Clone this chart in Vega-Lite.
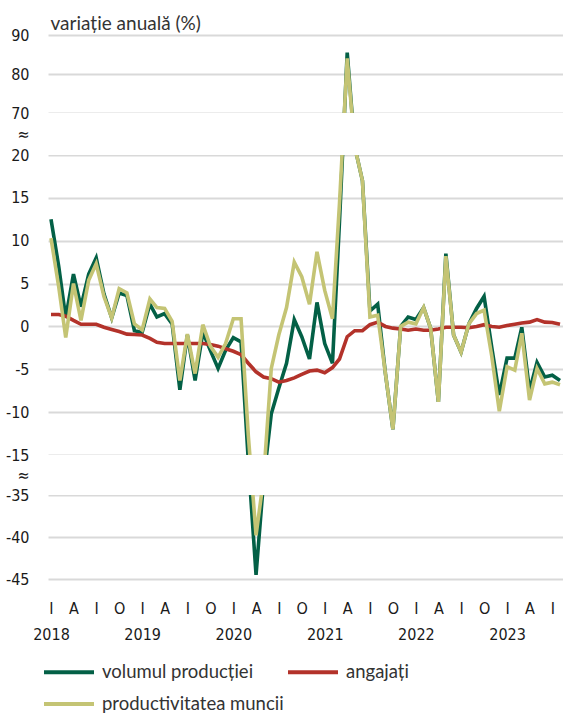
{
  "$schema": "https://vega.github.io/schema/vega-lite/v6.json",
  "width": 515,
  "height": 544,
  "autosize": {"type": "none"},
  "padding": {"left": 48, "top": 35, "right": 0, "bottom": 135},
  "background": "white",
  "config": {"view": {"stroke": null}, "font": "Lato"},
  "datasets": {
    "green": [
      {"d":"2018-01-01","v":12.5},{"d":"2018-02-01","v":7.0},{"d":"2018-03-01","v":1.0},{"d":"2018-04-01","v":6.1},{"d":"2018-05-01","v":2.3},{"d":"2018-06-01","v":6.1},{"d":"2018-07-01","v":8.0},{"d":"2018-08-01","v":3.8},{"d":"2018-09-01","v":1.0},{"d":"2018-10-01","v":3.9},{"d":"2018-11-01","v":3.6},{"d":"2018-12-01","v":-0.5},
      {"d":"2019-01-01","v":-0.7},{"d":"2019-02-01","v":2.6},{"d":"2019-03-01","v":1.1},{"d":"2019-04-01","v":1.5},{"d":"2019-05-01","v":0.3},{"d":"2019-06-01","v":-7.4},{"d":"2019-07-01","v":-1.0},{"d":"2019-08-01","v":-6.3},{"d":"2019-09-01","v":-0.7},{"d":"2019-10-01","v":-2.8},{"d":"2019-11-01","v":-4.9},{"d":"2019-12-01","v":-2.8},
      {"d":"2020-01-01","v":-1.3},{"d":"2020-02-01","v":-1.8},{"d":"2020-03-01","v":-18},{"d":"2020-04-01","v":-44.5},{"d":"2020-05-01","v":-28},{"d":"2020-06-01","v":-10.2},{"d":"2020-07-01","v":-7.2},{"d":"2020-08-01","v":-4.3},{"d":"2020-09-01","v":0.8},{"d":"2020-10-01","v":-1.2},{"d":"2020-11-01","v":-3.8},{"d":"2020-12-01","v":2.8},
      {"d":"2021-01-01","v":-2.0},{"d":"2021-02-01","v":-4.3},{"d":"2021-03-01","v":12.2},{"d":"2021-04-01","v":85.5},{"d":"2021-05-01","v":30},{"d":"2021-06-01","v":17},{"d":"2021-07-01","v":1.8},{"d":"2021-08-01","v":2.6},{"d":"2021-09-01","v":-5.5},{"d":"2021-10-01","v":-12},{"d":"2021-11-01","v":0.0},{"d":"2021-12-01","v":1.1},
      {"d":"2022-01-01","v":0.8},{"d":"2022-02-01","v":2.2},{"d":"2022-03-01","v":-0.2},{"d":"2022-04-01","v":-8.8},{"d":"2022-05-01","v":8.5},{"d":"2022-06-01","v":-1.0},{"d":"2022-07-01","v":-3.0},{"d":"2022-08-01","v":0.3},{"d":"2022-09-01","v":2.1},{"d":"2022-10-01","v":3.5},{"d":"2022-11-01","v":-2.5},{"d":"2022-12-01","v":-8.0},
      {"d":"2023-01-01","v":-3.7},{"d":"2023-02-01","v":-3.7},{"d":"2023-03-01","v":-0.1},{"d":"2023-04-01","v":-7.5},{"d":"2023-05-01","v":-4.2},{"d":"2023-06-01","v":-5.9},{"d":"2023-07-01","v":-5.7},{"d":"2023-08-01","v":-6.3}
    ],
    "red": [
      {"d":"2018-01-01","v":1.4},{"d":"2018-02-01","v":1.4},{"d":"2018-03-01","v":1.2},{"d":"2018-04-01","v":0.7},{"d":"2018-05-01","v":0.25},{"d":"2018-06-01","v":0.25},{"d":"2018-07-01","v":0.25},{"d":"2018-08-01","v":-0.1},{"d":"2018-09-01","v":-0.35},{"d":"2018-10-01","v":-0.6},{"d":"2018-11-01","v":-0.9},{"d":"2018-12-01","v":-0.95},
      {"d":"2019-01-01","v":-1.0},{"d":"2019-02-01","v":-1.4},{"d":"2019-03-01","v":-1.85},{"d":"2019-04-01","v":-2.0},{"d":"2019-05-01","v":-2.0},{"d":"2019-06-01","v":-2.0},{"d":"2019-07-01","v":-2.0},{"d":"2019-08-01","v":-2.0},{"d":"2019-09-01","v":-2.0},{"d":"2019-10-01","v":-2.1},{"d":"2019-11-01","v":-2.3},{"d":"2019-12-01","v":-2.6},
      {"d":"2020-01-01","v":-2.9},{"d":"2020-02-01","v":-3.3},{"d":"2020-03-01","v":-4.3},{"d":"2020-04-01","v":-5.3},{"d":"2020-05-01","v":-5.9},{"d":"2020-06-01","v":-6.1},{"d":"2020-07-01","v":-6.5},{"d":"2020-08-01","v":-6.3},{"d":"2020-09-01","v":-6.0},{"d":"2020-10-01","v":-5.6},{"d":"2020-11-01","v":-5.2},{"d":"2020-12-01","v":-5.1},
      {"d":"2021-01-01","v":-5.4},{"d":"2021-02-01","v":-4.8},{"d":"2021-03-01","v":-3.8},{"d":"2021-04-01","v":-1.2},{"d":"2021-05-01","v":-0.5},{"d":"2021-06-01","v":-0.5},{"d":"2021-07-01","v":0.2},{"d":"2021-08-01","v":0.5},{"d":"2021-09-01","v":0.0},{"d":"2021-10-01","v":-0.2},{"d":"2021-11-01","v":-0.3},{"d":"2021-12-01","v":-0.45},
      {"d":"2022-01-01","v":-0.3},{"d":"2022-02-01","v":-0.45},{"d":"2022-03-01","v":-0.45},{"d":"2022-04-01","v":-0.3},{"d":"2022-05-01","v":-0.1},{"d":"2022-06-01","v":-0.1},{"d":"2022-07-01","v":-0.1},{"d":"2022-08-01","v":-0.15},{"d":"2022-09-01","v":0.0},{"d":"2022-10-01","v":0.2},{"d":"2022-11-01","v":0.0},{"d":"2022-12-01","v":-0.1},
      {"d":"2023-01-01","v":0.1},{"d":"2023-02-01","v":0.25},{"d":"2023-03-01","v":0.4},{"d":"2023-04-01","v":0.5},{"d":"2023-05-01","v":0.8},{"d":"2023-06-01","v":0.5},{"d":"2023-07-01","v":0.45},{"d":"2023-08-01","v":0.25}
    ],
    "yellow": [
      {"d":"2018-01-01","v":10.3},{"d":"2018-02-01","v":4.6},{"d":"2018-03-01","v":-1.3},{"d":"2018-04-01","v":5.0},{"d":"2018-05-01","v":0.7},{"d":"2018-06-01","v":5.4},{"d":"2018-07-01","v":7.3},{"d":"2018-08-01","v":3.5},{"d":"2018-09-01","v":1.0},{"d":"2018-10-01","v":4.4},{"d":"2018-11-01","v":3.9},{"d":"2018-12-01","v":0.3},
      {"d":"2019-01-01","v":-0.4},{"d":"2019-02-01","v":3.2},{"d":"2019-03-01","v":2.2},{"d":"2019-04-01","v":2.1},{"d":"2019-05-01","v":0.6},{"d":"2019-06-01","v":-6.3},{"d":"2019-07-01","v":-0.9},{"d":"2019-08-01","v":-5.5},{"d":"2019-09-01","v":0.2},{"d":"2019-10-01","v":-2.3},{"d":"2019-11-01","v":-3.6},{"d":"2019-12-01","v":-2.0},
      {"d":"2020-01-01","v":0.9},{"d":"2020-02-01","v":0.9},{"d":"2020-03-01","v":-12.7},{"d":"2020-04-01","v":-39.8},{"d":"2020-05-01","v":-27},{"d":"2020-06-01","v":-4.9},{"d":"2020-07-01","v":-1.0},{"d":"2020-08-01","v":2.2},{"d":"2020-09-01","v":7.5},{"d":"2020-10-01","v":5.8},{"d":"2020-11-01","v":2.6},{"d":"2020-12-01","v":8.7},
      {"d":"2021-01-01","v":4.2},{"d":"2021-02-01","v":0.9},{"d":"2021-03-01","v":14.3},{"d":"2021-04-01","v":84},{"d":"2021-05-01","v":30},{"d":"2021-06-01","v":17},{"d":"2021-07-01","v":1.1},{"d":"2021-08-01","v":1.3},{"d":"2021-09-01","v":-5.5},{"d":"2021-10-01","v":-12},{"d":"2021-11-01","v":0.0},{"d":"2021-12-01","v":0.5},
      {"d":"2022-01-01","v":0.3},{"d":"2022-02-01","v":2.2},{"d":"2022-03-01","v":-0.2},{"d":"2022-04-01","v":-8.8},{"d":"2022-05-01","v":8.2},{"d":"2022-06-01","v":-1.0},{"d":"2022-07-01","v":-3.0},{"d":"2022-08-01","v":0.3},{"d":"2022-09-01","v":1.5},{"d":"2022-10-01","v":1.9},{"d":"2022-11-01","v":-3.5},{"d":"2022-12-01","v":-9.9},
      {"d":"2023-01-01","v":-4.7},{"d":"2023-02-01","v":-5.1},{"d":"2023-03-01","v":-0.8},{"d":"2023-04-01","v":-8.6},{"d":"2023-05-01","v":-4.9},{"d":"2023-06-01","v":-6.7},{"d":"2023-07-01","v":-6.5},{"d":"2023-08-01","v":-6.8}
    ],
    "breaks": [{"lo": 20, "hi": 70}, {"lo": -35, "hi": -15}]
  },
  "layer": [
    {
      "data": {"name": "green"},
      "mark": {"type": "line", "strokeWidth": 3.6},
      "encoding": {
        "x": {
          "field": "d", "type": "temporal",
          "scale": {"type": "utc", "domain": [{"year": 2017, "month": 12, "date": 20, "utc": true}, {"year": 2023, "month": 8, "date": 13, "utc": true}]},
          "axis": {
            "title": null,
            "tickCount": {"interval": "month", "step": 3},
            "labelExpr": "utcmonth(datum.value) == 0 ? ['I', utcFormat(datum.value, '%Y')] : utcmonth(datum.value) == 3 ? 'A' : utcmonth(datum.value) == 6 ? 'I' : 'O'",
            "labelFont": "DejaVu Sans Condensed, Roboto, sans-serif",
            "labelFontSize": 16,
            "labelColor": "#1a1a1a",
            "labelBaseline": "top",
            "labelPadding": 21,
            "labelLineHeight": 26,
            "labelOverlap": false,
            "labelBound": false,
            "labelFlush": false,
            "ticks": false,
            "domain": false,
            "grid": false
          }
        },
        "y": {
          "field": "v", "type": "quantitative",
          "scale": {"domain": [-45, -35, -15, 20, 70, 90], "range": [544, 460, 420, 120, 78, 0], "nice": false, "zero": false},
          "axis": {
            "title": "variație anuală (%)",
            "titleAngle": 0,
            "titleAlign": "left",
            "titleBaseline": "alphabetic",
            "titleX": 2,
            "titleY": -6,
            "titleFont": "Lato",
            "titleFontSize": 19,
            "titleFontWeight": "normal",
            "titleColor": "#333333",
            "values": [-45, -40, -35, -25, -15, -10, -5, 0, 5, 10, 15, 20, 45, 70, 80, 90],
            "tickCount": 40,
            "labelExpr": "datum.value == 45 || datum.value == -25 ? '≈' : '' + datum.value",
            "labelFont": "DejaVu Sans Condensed, Roboto, sans-serif",
            "labelFontSize": 16,
            "labelColor": "#1a1a1a",
            "labelPadding": 19,
            "labelOverlap": false,
            "labelBound": false,
            "labelFlush": false,
            "ticks": false,
            "domain": false,
            "gridColor": {"condition": {"test": "datum.value == 45 || datum.value == -25", "value": "transparent"}, "value": "#d9d9d9"},
            "gridWidth": 2
          }
        },
        "color": {
          "datum": "volumul producției", "type": "nominal",
          "scale": {"domain": ["volumul producției", "angajați", "productivitatea muncii"], "range": ["#036046", "#b3322a", "#c4c474"]},
          "legend": {
            "orient": "none", "legendX": 9, "legendY": 625,
            "direction": "horizontal", "columns": 2, "title": null,
            "symbolType": "M-2.5,0H2.5", "symbolSize": 400, "symbolStrokeWidth": 4,
            "labelFont": "Lato", "labelFontSize": 18.5, "labelColor": "#333333",
            "labelOffset": 21, "columnPadding": -4, "rowPadding": 10, "padding": 0, "labelLimit": 400
          }
        }
      }
    },
    {
      "data": {"name": "red"},
      "mark": {"type": "line", "strokeWidth": 3.6},
      "encoding": {
        "x": {"field": "d", "type": "temporal"},
        "y": {"field": "v", "type": "quantitative"},
        "color": {"datum": "angajați", "type": "nominal"}
      }
    },
    {
      "data": {"name": "yellow"},
      "mark": {"type": "line", "strokeWidth": 3.6},
      "encoding": {
        "x": {"field": "d", "type": "temporal"},
        "y": {"field": "v", "type": "quantitative"},
        "color": {"datum": "productivitatea muncii", "type": "nominal"}
      }
    },
    {
      "data": {"name": "breaks"},
      "mark": {"type": "rect", "fill": "white"},
      "encoding": {
        "y": {"field": "lo", "type": "quantitative"},
        "y2": {"field": "hi"}
      }
    }
  ]
}
